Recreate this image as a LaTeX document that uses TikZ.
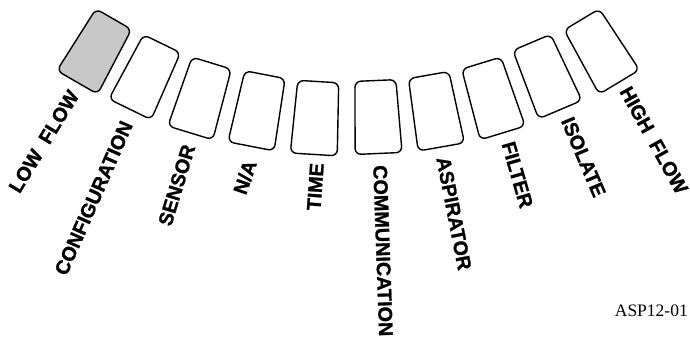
\documentclass[tikz,border=0pt]{standalone}
\usepackage{fontspec}
\setmainfont{Liberation Sans}
\newfontfamily\lblfont{Liberation Sans Bold}[FakeBold=1.2]
\newfontfamily\aspserif{Liberation Serif}
\definecolor{keygray}{RGB}{200,200,200}
\newcommand\keybox[5]{%
  \begin{scope}[shift={(#2,#3)},rotate=#4]
    \draw[keyshape,fill=#5] (-20.5,-36.5) -- (20.5,-36.5) -- (23.5,36.5) -- (-23.5,36.5) -- cycle;
    \coordinate (#1) at (0,0);
  \end{scope}}
\begin{document}
\begin{tikzpicture}[x=1pt,y=-1pt,
  keyshape/.style={draw=black,line width=1.4pt,rounded corners=6pt,line join=round},
  lbl/.style={font=\lblfont\fontsize{19.8}{20}\selectfont,inner sep=0pt},
  lleft/.style={lbl,anchor=east},
  lright/.style={lbl,anchor=west}]
\useasboundingbox (0,0) rectangle (690,342);
\keybox{k1}{95.5}{50.75}{-30}{keygray}
\keybox{k2}{146}{76.5}{-26}{white}
\keybox{k3}{201}{98}{-17}{white}
\keybox{k4}{258}{110.5}{-11}{white}
\keybox{k5}{316}{118}{-3.5}{white}
\keybox{k6}{377}{117}{2.5}{white}
\keybox{k7}{435}{111}{10}{white}
\keybox{k8}{492}{98}{17}{white}
\keybox{k9}{546}{76}{23}{white}
\keybox{k10}{600.5}{50.75}{31}{white}
\node[lleft,rotate=58.6] (t1) at (74,92) {LOW\ \ FLOW};
\node[lleft,rotate=66.3] (t2) at (127,122) {CONFIGURATION};
\node[lleft,rotate=73] (t3) at (189,145) {SENSOR};
\node[lleft,rotate=71] (t4) at (250.5,161) {N/A};
\node[lleft,rotate=86] (t5) at (317,163) {TIME};
\node[lright,rotate=-88] (t6) at (380,165) {COMMUNICATION};
\node[lright,rotate=-79] (t7) at (443,157) {ASPIRATOR};
\node[lright,rotate=-74] (t8) at (508,142) {FILTER};
\node[lright,rotate=-67] (t9) at (567,118) {ISOLATE};
\node[lright,rotate=-61] (t10) at (625,88) {HIGH\ \ FLOW};
\node[font=\aspserif\fontsize{17.5}{18}\selectfont,anchor=base east,inner sep=0pt] (code) at (688,316) {ASP12-01};
\end{tikzpicture}
\end{document}
